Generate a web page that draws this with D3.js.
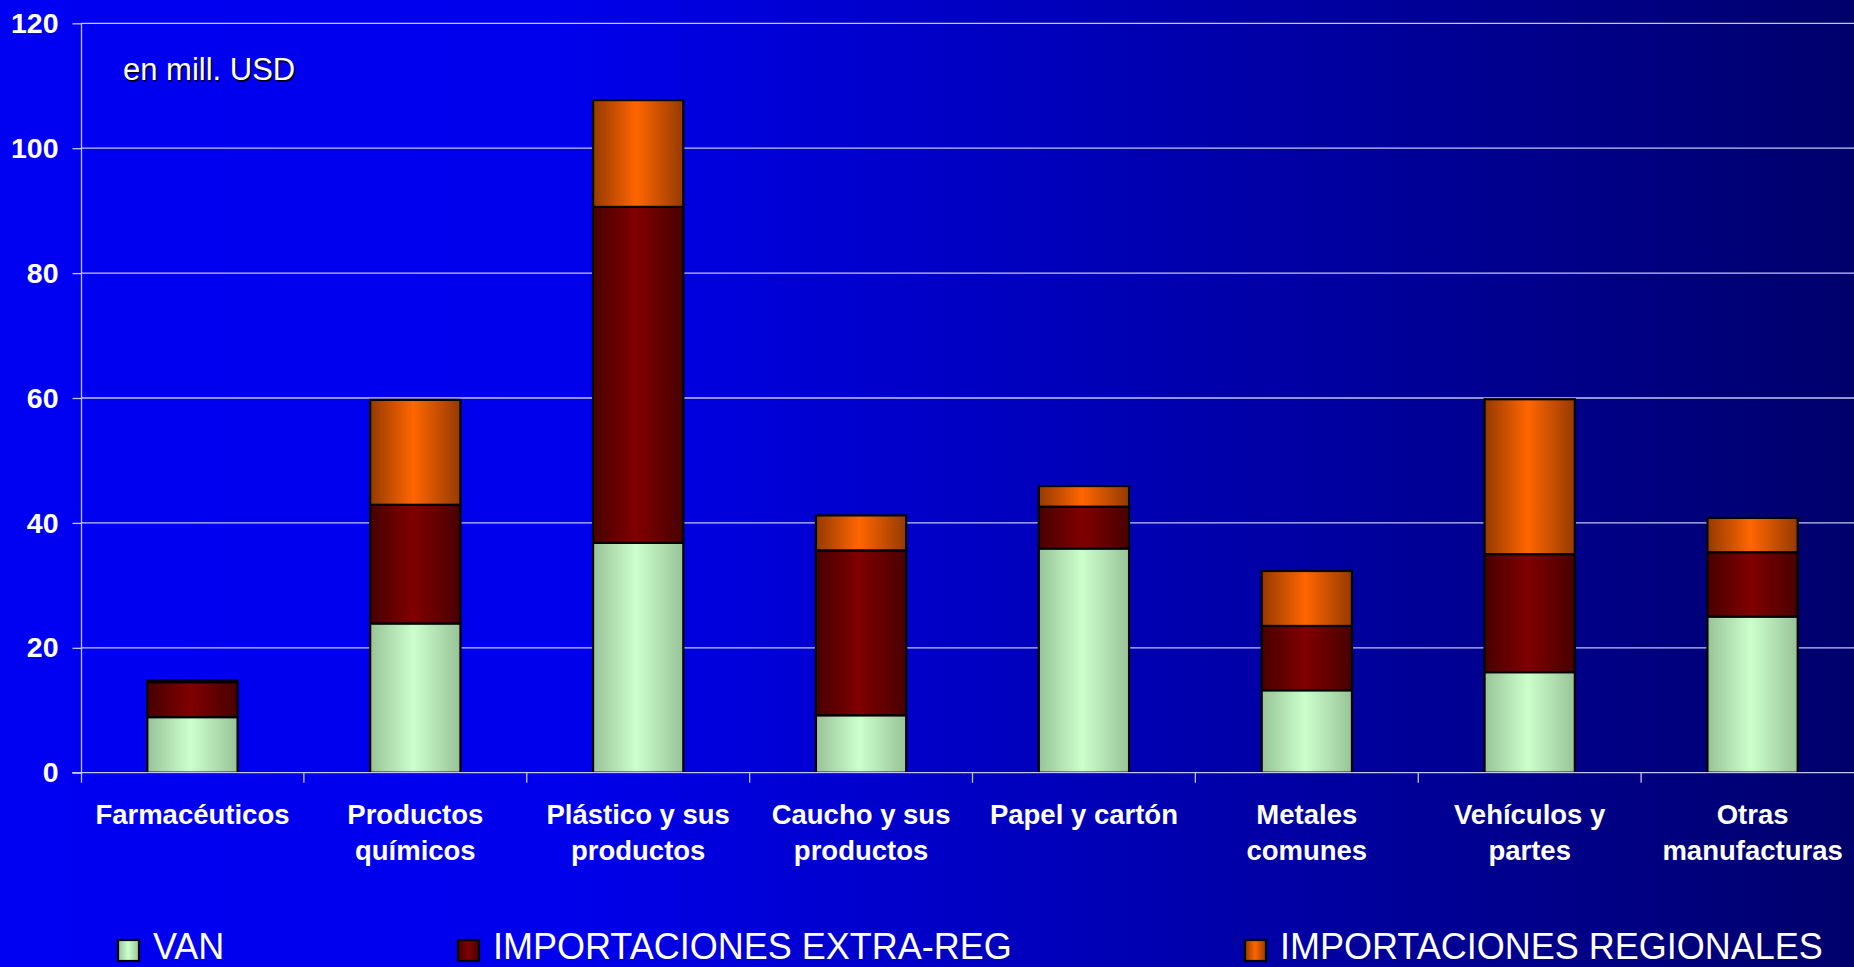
<!DOCTYPE html>
<html>
<head>
<meta charset="utf-8">
<script src="https://cdn.jsdelivr.net/npm/d3@7"></script>
<style>
  html, body { margin: 0; padding: 0; overflow: hidden; }
  svg { display: block; }
  text { font-family: "Liberation Sans", Arial, Helvetica, sans-serif; }
</style>
</head>
<body>
<svg id="chart" width="1854" height="967"></svg>
<script>
// ---- data ----
const categories = ["Farmacéuticos", "Productos\nquímicos", "Plástico y sus\nproductos", "Caucho y sus\nproductos",
                    "Papel y cartón", "Metales\ncomunes", "Vehículos y\npartes", "Otras\nmanufacturas"];
const seriesNames = ["VAN", "IMPORTACIONES EXTRA-REG", "IMPORTACIONES REGIONALES"];
const van       = [8.9, 23.9, 36.8, 9.2, 35.9, 13.2, 16.1, 25.0];
const extraReg  = [5.6, 19.0, 53.8, 26.4, 6.7, 10.3, 18.9, 10.3];
const regional  = [0.3, 16.8, 17.1, 5.6, 3.3, 8.8, 24.8, 5.5];
const yTicks = [0, 20, 40, 60, 80, 100, 120];
const unitLabel = "en mill. USD";

// ---- setup ----
const W = 1854, H = 967;
const svg = d3.select("#chart");
const defs = svg.append("defs");

// background gradient
const bg = defs.append("linearGradient").attr("id", "bg").attr("x1", 0).attr("x2", 1).attr("y1", 0).attr("y2", 0);
bg.append("stop").attr("offset", "0").attr("stop-color", "#0000f2");
bg.append("stop").attr("offset", "0.3").attr("stop-color", "#0000ec");
bg.append("stop").attr("offset", "1").attr("stop-color", "#00006c");
svg.append("rect").attr("width", W).attr("height", H).attr("fill", "url(#bg)");

// bar gradients
const palette = [
  { edge: "#98c398", center: "#ccffcc" },
  { edge: "#480000", center: "#800000" },
  { edge: "#943a00", center: "#ff6600" }
];
palette.forEach((p, i) => {
  const g = defs.append("linearGradient").attr("id", "g" + i).attr("x1", 0).attr("x2", 1).attr("y1", 0).attr("y2", 0);
  g.append("stop").attr("offset", "0").attr("stop-color", p.edge);
  g.append("stop").attr("offset", "0.48").attr("stop-color", p.center);
  g.append("stop").attr("offset", "1").attr("stop-color", p.edge);
});

const x = d3.scaleBand().domain(categories).range([81, 1864]).padding(0);
const y = d3.scaleLinear().domain([0, 120]).range([772.7, 23.3]);
const barW = x.bandwidth() * 0.405;

// gridlines
svg.append("g").selectAll("line").data(yTicks.filter(d => d > 0)).join("line")
  .attr("x1", 81).attr("x2", W)
  .attr("y1", d => y(d)).attr("y2", d => y(d))
  .attr("stroke", "#c4c4f4").attr("stroke-width", 1.3);

// y axis
const yAxis = svg.append("g").attr("transform", "translate(81.5,0)")
  .call(d3.axisLeft(y).tickValues(yTicks).tickSize(9).tickPadding(14).tickFormat(d3.format("d")));
yAxis.select(".domain").attr("stroke", "#c4c4f4").attr("stroke-width", 1.3)
  .attr("d", `M0,${y(120)}V${y(0) + 10}`);
yAxis.selectAll(".tick line").attr("stroke", "#c4c4f4").attr("stroke-width", 1.3);
yAxis.selectAll(".tick text").attr("fill", "#ffffff").attr("font-size", 28.5).attr("font-weight", "bold")
  .attr("font-family", "'Liberation Sans', Arial, sans-serif");

// stacked bars
const rows = categories.map((c, i) => ({ cat: c, s0: van[i], s1: extraReg[i], s2: regional[i] }));
const stack = d3.stack().keys(["s0", "s1", "s2"]);
const layers = stack(rows);
layers.forEach((layer, li) => {
  svg.append("g").selectAll("rect").data(layer).join("rect")
    .attr("x", d => x(d.data.cat) + (x.bandwidth() - barW) / 2)
    .attr("width", barW)
    .attr("y", d => y(d[1]))
    .attr("height", d => y(d[0]) - y(d[1]))
    .attr("fill", `url(#g${li})`)
    .attr("stroke", "#000000").attr("stroke-width", 2.2);
});

// x axis baseline and ticks
const xAxisG = svg.append("g");
xAxisG.append("line").attr("x1", 72).attr("x2", W).attr("y1", y(0)).attr("y2", y(0))
  .attr("stroke", "#c4c4f4").attr("stroke-width", 1.3);
const boundaries = categories.map(c => x(c)).concat([x.range()[1]]);
xAxisG.selectAll("line.tk").data(boundaries.slice(1)).join("line").attr("class", "tk")
  .attr("x1", d => d).attr("x2", d => d).attr("y1", y(0)).attr("y2", y(0) + 10)
  .attr("stroke", "#c4c4f4").attr("stroke-width", 1.3);

// category labels
const labels = svg.append("g").selectAll("text").data(categories).join("text")
  .attr("x", d => x(d) + x.bandwidth() / 2)
  .attr("y", 824)
  .attr("text-anchor", "middle")
  .attr("fill", "#ffffff").attr("font-size", 27.5).attr("font-weight", "bold");
labels.each(function (d) {
  const parts = d.split("\n");
  const t = d3.select(this);
  parts.forEach((p, k) => {
    t.append("tspan").attr("x", x(d) + x.bandwidth() / 2).attr("dy", k === 0 ? 0 : 36).text(p);
  });
});

// unit label with shadow
svg.append("text").attr("x", 124.5).attr("y", 81.5).attr("fill", "#000022").attr("font-size", 31).text(unitLabel);
svg.append("text").attr("x", 123).attr("y", 80).attr("fill", "#ffffff").attr("font-size", 31).text(unitLabel);

// legend
const legendX = [118, 458, 1245];
const legend = svg.append("g").selectAll("g").data(seriesNames).join("g")
  .attr("transform", (d, i) => `translate(${legendX[i]},0)`);
legend.append("rect").attr("x", 0).attr("y", 940).attr("width", 21).attr("height", 21)
  .attr("fill", (d, i) => `url(#g${i})`).attr("stroke", "#000").attr("stroke-width", 2.2);
legend.append("text").attr("x", 35).attr("y", 959).attr("fill", "#ffffff").attr("font-size", 36).text(d => d);
</script>
</body>
</html>
